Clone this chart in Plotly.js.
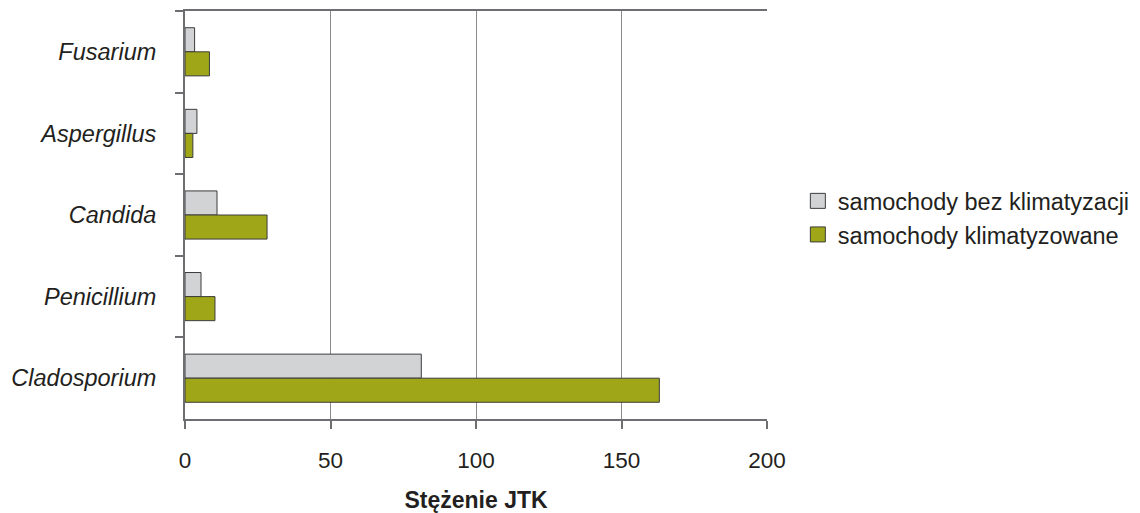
<!DOCTYPE html>
<html>
<head>
<meta charset="utf-8">
<script src="https://cdn.plot.ly/plotly-3.0.1.min.js"></script>
<style>html,body{margin:0;padding:0;background:#fff;}#chart{width:1140px;height:513px;}</style>
</head>
<body>
<div id="chart"></div>
<script>
const categories = ["Fusarium", "Aspergillus", "Candida", "Penicillium", "Cladosporium"];
const seriesNames = ["samochody bez klimatyzacji", "samochody klimatyzowane"];
const withoutAC = [3.3, 4.1, 11.0, 5.5, 81.2];
const withAC = [8.4, 2.7, 28.2, 10.3, 163.0];
const xTicks = [0, 50, 100, 150, 200];
const xTitle = "Stężenie JTK";

const font = "Liberation Sans, Arial, sans-serif";
const textColor = "#231f20";
const colors = ["#d1d3d4", "#9fa617"];
const edge = "#3c3c3c";
const values = [withoutAC, withAC];

const traces = [];
values.forEach((vals, i) => {
  traces.push({type: "bar", orientation: "h", name: seriesNames[i], y: categories, x: vals,
    showlegend: false, marker: {color: colors[i], line: {color: edge, width: 1}}});
});
values.forEach((vals, i) => {
  traces.push({type: "scatter", mode: "markers", name: seriesNames[i], x: [null], y: [null],
    legendgroup: "g" + i, showlegend: true,
    marker: {symbol: "square", size: 15, color: colors[i], line: {color: edge, width: 1}}});
});

const layout = {
  width: 1140, height: 513,
  margin: {l: 185, r: 373, t: 11, b: 94, autoexpand: false},
  paper_bgcolor: "#fff", plot_bgcolor: "#fff",
  font: {family: font, color: textColor, size: 23.5},
  barmode: "group", bargap: 0.41, bargroupgap: 0,
  showlegend: true,
  legend: {x: 1.053, xanchor: "left", y: 0.588, yanchor: "top",
           font: {family: font, size: 23.5, color: textColor},
           traceorder: "normal", itemwidth: 30, tracegroupgap: 10},
  xaxis: {range: [0, 200], tickvals: xTicks, ticktext: xTicks.map(String),
          showgrid: true, gridcolor: "#8a8a8a", gridwidth: 1,
          showline: true, linecolor: "#6d6e71", linewidth: 2, mirror: true,
          ticks: "outside", ticklen: 8, tickcolor: "#6d6e71", tickwidth: 2,
          ticklabelstandoff: 12, zeroline: false,
          tickfont: {family: font, size: 22.5, color: textColor},
          title: {text: "<b>" + xTitle + "</b>", font: {family: font, size: 23, color: textColor}, standoff: 20}},
  yaxis: {type: "category", autorange: "reversed",
          showline: true, linecolor: "#6d6e71", linewidth: 2,
          ticks: "outside", tickson: "boundaries", ticklen: 8, tickcolor: "#6d6e71", tickwidth: 2,
          showgrid: false, zeroline: false, ticklabelstandoff: 22,
          tickfont: {family: font, size: 23.5, color: textColor, style: "italic"}}
};

Plotly.newPlot("chart", traces, layout, {displayModeBar: false, staticPlot: true});
</script>
</body>
</html>
